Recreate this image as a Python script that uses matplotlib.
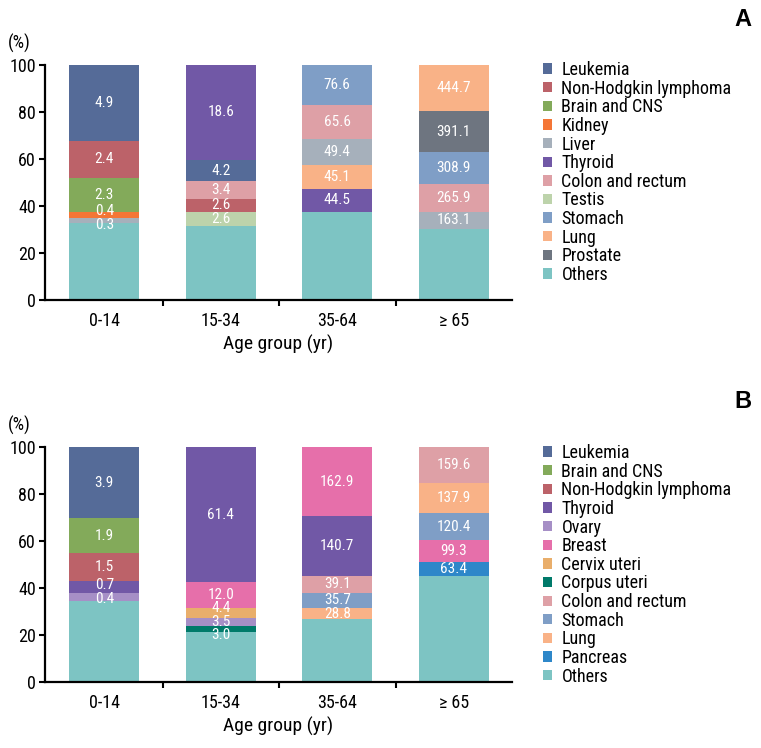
import matplotlib
matplotlib.use("Agg")
import matplotlib.pyplot as plt
from matplotlib.patches import Patch

plt.rcParams["font.family"] = ["Liberation Sans Narrow", "Roboto Condensed", "Open Sans Condensed",
                               "Noto Sans Condensed", "DejaVu Sans Condensed",
                               "Liberation Sans", "DejaVu Sans"]

age_groups = ["0-14", "15-34", "35-64", "\u2265 65"]

colors = {
    "Leukemia": "#556b98",
    "Non-Hodgkin lymphoma": "#bc6269",
    "Brain and CNS": "#83aa5a",
    "Kidney": "#f47636",
    "Liver": "#a6b0bb",
    "Thyroid": "#7158a6",
    "Colon and rectum": "#dea0a6",
    "Testis": "#bdd3ab",
    "Stomach": "#7f9ec6",
    "Lung": "#f9b287",
    "Prostate": "#6e7580",
    "Others": "#7dc4c3",
    "Ovary": "#a68fc6",
    "Breast": "#e66faa",
    "Cervix uteri": "#e9ae6b",
    "Corpus uteri": "#007a6a",
    "Pancreas": "#2e87c9",
}

# panel A: males; stacks go bottom -> top in each age group
a_sites = [
    ["Others", "Liver", "Kidney", "Brain and CNS", "Non-Hodgkin lymphoma", "Leukemia"],
    ["Others", "Testis", "Non-Hodgkin lymphoma", "Colon and rectum", "Leukemia", "Thyroid"],
    ["Others", "Thyroid", "Lung", "Liver", "Colon and rectum", "Stomach"],
    ["Others", "Liver", "Colon and rectum", "Stomach", "Prostate", "Lung"],
]
a_share = [
    [32.6, 2.1, 2.6, 14.8, 15.7, 32.2],
    [31.6, 5.7, 5.7, 7.4, 9.2, 40.4],
    [37.4, 9.9, 10.0, 11.0, 14.6, 17.1],
    [30.3, 7.2, 11.8, 13.7, 17.3, 19.7],
]
a_rate = [
    [None, "0.3", "0.4", "2.3", "2.4", "4.9"],
    [None, "2.6", "2.6", "3.4", "4.2", "18.6"],
    [None, "44.5", "45.1", "49.4", "65.6", "76.6"],
    [None, "163.1", "265.9", "308.9", "391.1", "444.7"],
]
a_legend = ["Leukemia", "Non-Hodgkin lymphoma", "Brain and CNS", "Kidney", "Liver",
            "Thyroid", "Colon and rectum", "Testis", "Stomach", "Lung", "Prostate", "Others"]

# panel B: females
b_sites = [
    ["Others", "Ovary", "Thyroid", "Non-Hodgkin lymphoma", "Brain and CNS", "Leukemia"],
    ["Others", "Corpus uteri", "Ovary", "Cervix uteri", "Breast", "Thyroid"],
    ["Others", "Lung", "Stomach", "Colon and rectum", "Thyroid", "Breast"],
    ["Others", "Pancreas", "Breast", "Stomach", "Lung", "Colon and rectum"],
]
b_share = [
    [34.5, 3.1, 5.5, 11.7, 14.8, 30.4],
    [21.0, 2.8, 3.2, 4.2, 11.2, 57.6],
    [26.6, 5.0, 6.4, 7.1, 25.4, 29.5],
    [44.9, 6.0, 9.4, 11.4, 13.0, 15.3],
]
b_rate = [
    [None, "0.4", "0.7", "1.5", "1.9", "3.9"],
    [None, "3.0", "3.5", "4.4", "12.0", "61.4"],
    [None, "28.8", "35.7", "39.1", "140.7", "162.9"],
    [None, "63.4", "99.3", "120.4", "137.9", "159.6"],
]
b_legend = ["Leukemia", "Brain and CNS", "Non-Hodgkin lymphoma", "Thyroid", "Ovary",
            "Breast", "Cervix uteri", "Corpus uteri", "Colon and rectum", "Stomach",
            "Lung", "Pancreas", "Others"]


def spread(ys, gap=5.8):
    # push apart labels of thin neighbouring segments
    ys = list(ys)
    for _ in range(30):
        for k in range(len(ys) - 1):
            d = ys[k + 1] - ys[k]
            if d < gap:
                ys[k] -= (gap - d) / 2
                ys[k + 1] += (gap - d) / 2
    return ys


def draw_panel(fig, rect, sites, shares, rates, legend_names, letter, letter_y, legend_y):
    ax = fig.add_axes(rect)
    for i in range(len(age_groups)):
        bottom = 0
        centers, texts = [], []
        for site, h, r in zip(sites[i], shares[i], rates[i]):
            ax.bar(i, h, width=0.6, bottom=bottom, color=colors[site], linewidth=0)
            if r is not None:
                centers.append(bottom + h / 2)
                texts.append(r)
            bottom += h
        for y, r in zip(spread(centers), texts):
            ax.text(i, y, r, ha="center", va="center", color="white", fontsize=11)

    ax.set_xlim(-0.51, 3.5)
    ax.set_ylim(0, 100)
    ax.set_yticks(range(0, 101, 20))
    ax.set_xticks([0.5, 1.5, 2.5])
    ax.set_xticklabels([])
    ax.set_xticks(range(4), minor=True)
    ax.set_xticklabels(age_groups, minor=True)
    ax.tick_params(axis="x", which="minor", length=0, pad=9, labelsize=13)
    ax.tick_params(axis="x", which="major", length=4.5, width=1.5, direction="out")
    ax.tick_params(axis="y", length=4.5, width=1.5, pad=2, labelsize=13)
    for s in ["top", "right"]:
        ax.spines[s].set_visible(False)
    for s in ["left", "bottom"]:
        ax.spines[s].set_linewidth(1.6)
    ax.set_xlabel("Age group (yr)", fontsize=14, labelpad=3)

    pos = ax.get_position()
    fig.text(0.011, pos.y1 + 0.029, "(%)", fontsize=13, va="center", ha="left")
    fig.text(0.976, letter_y, letter, fontsize=17, fontweight="bold",
             family=["Liberation Sans", "DejaVu Sans"], ha="center", va="center")

    handles = [Patch(facecolor=colors[n], edgecolor="none", label=n) for n in legend_names]
    fig.legend(handles=handles, loc="upper left", bbox_to_anchor=(0.714, legend_y),
               frameon=False, fontsize=13, handlelength=0.5, handleheight=0.5,
               handletextpad=0.5, labelspacing=0.035, borderaxespad=0, borderpad=0)
    return ax


fig = plt.figure(figsize=(7.61, 7.48), dpi=100)

draw_panel(fig, [0.0591, 0.599, 0.6137, 0.3142], a_sites, a_share, a_rate, a_legend,
           "A", 1 - 20 / 748, 1 - 61 / 748)
draw_panel(fig, [0.0591, 0.0886, 0.6137, 0.3138], b_sites, b_share, b_rate, b_legend,
           "B", 1 - 401 / 748, 1 - 444 / 748)

fig.savefig("out.png", dpi=100)
